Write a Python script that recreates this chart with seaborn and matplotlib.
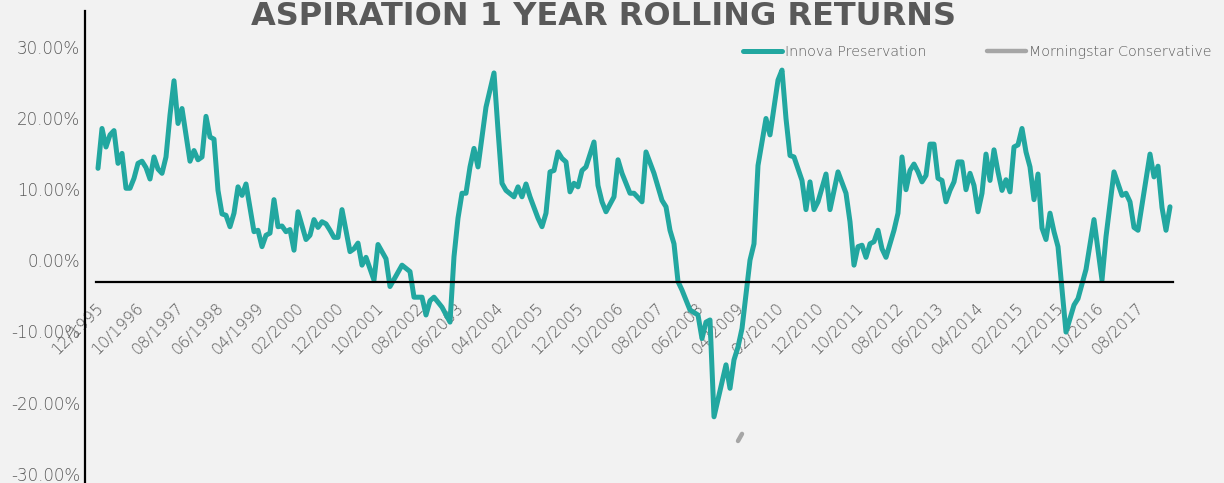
import pandas as pd
import matplotlib.pyplot as plt
import seaborn as sns
from matplotlib.transforms import ScaledTranslation

# months counted from 12/1995, 1 year rolling return in %
innova_month = [
    0, 1, 2, 3, 4, 5, 6, 7, 8, 9, 10, 11, 12, 13, 14, 15, 16, 17, 18, 19,
    20, 21, 23, 24, 25, 26, 27, 28, 29, 30, 31, 32, 33, 34, 35, 36, 37, 39, 40, 41,
    42, 43, 44, 45, 46, 47, 48, 49, 50, 52, 53, 54, 55, 56, 57, 58, 59, 60, 61, 63,
    64, 65, 66, 67, 69, 70, 72, 73, 76, 78, 79, 81, 82, 83, 84, 86, 88, 89, 90, 91,
    92, 93, 94, 95, 97, 98, 99, 100, 101, 102, 104, 105, 106, 107, 108, 110, 111, 112, 113, 114,
    115, 116, 117, 118, 119, 120, 121, 122, 124, 125, 126, 127, 129, 130, 131, 133, 134, 136, 137, 139,
    141, 142, 143, 144, 145, 146, 148, 150, 151, 152, 153, 154, 157, 158, 159, 160, 161, 163, 164, 165,
    167, 168, 170, 171, 172, 173, 174, 176, 177, 178, 179, 180, 182, 183, 185, 187, 188, 189, 190, 191,
    192, 193, 194, 195, 196, 197, 198, 199, 200, 201, 202, 203, 204, 205, 206, 207, 208, 209, 210, 211,
    212, 213, 214, 215, 216, 217, 218, 219, 220, 221, 222, 223, 224, 225, 226, 227, 228, 229, 230, 231,
    232, 233, 234, 235, 236, 237, 238, 239, 240, 242, 244, 245, 247, 249, 251, 252, 254, 256, 257, 258,
    259, 260, 263, 264, 265, 266, 267, 268,
]
innova_return = [
    12.9, 18.5, 15.9, 17.6, 18.2, 13.6, 15.0, 10.1, 10.1, 11.5, 13.6, 13.9, 13.0, 11.4, 14.5, 12.8, 12.2, 14.5, 20.4, 25.2,
    19.2, 21.3, 13.9, 15.4, 14.1, 14.5, 20.2, 17.3, 17.0, 9.8, 6.5, 6.3, 4.7, 6.6, 10.3, 9.1, 10.7, 4.0, 4.2, 1.9,
    3.5, 3.8, 8.5, 4.7, 4.8, 4.0, 4.3, 1.4, 6.8, 2.9, 3.5, 5.7, 4.6, 5.4, 5.1, 4.2, 3.2, 3.2, 7.1, 1.2,
    1.6, 2.4, -0.7, 0.4, -2.8, 2.2, 0.2, -3.7, -0.7, -1.6, -5.2, -5.2, -7.7, -5.7, -5.2, -6.6, -8.7, 0.5, 5.9, 9.4,
    9.4, 13.1, 15.7, 13.1, 21.5, 23.9, 26.3, 18.3, 10.8, 9.8, 8.9, 10.3, 8.9, 10.7, 8.9, 5.9, 4.7, 6.6, 12.4, 12.6,
    15.2, 14.3, 13.8, 9.6, 10.8, 10.3, 12.6, 13.1, 16.6, 10.5, 8.2, 6.8, 8.9, 14.1, 12.2, 9.4, 9.4, 8.2, 15.2, 12.2,
    8.4, 7.5, 4.2, 2.3, -3.0, -4.2, -7.0, -7.7, -11.0, -8.7, -8.4, -22.0, -14.7, -18.0, -14.0, -12.2, -9.6, 0.0, 2.3, 13.3,
    19.9, 17.6, 25.3, 26.7, 19.9, 14.7, 14.5, 11.2, 7.1, 11.0, 7.1, 8.2, 12.1, 7.1, 12.4, 9.4, 5.4, -0.7, 1.9, 2.1,
    0.4, 2.3, 2.6, 4.2, 1.6, 0.4, 2.3, 4.2, 6.6, 14.5, 9.9, 12.6, 13.5, 12.4, 11.0, 11.9, 16.3, 16.3, 11.5, 11.2,
    8.2, 9.8, 11.0, 13.8, 13.8, 9.9, 12.2, 10.5, 6.8, 9.4, 14.9, 11.2, 15.5, 12.4, 9.8, 11.3, 9.6, 15.9, 16.2, 18.5,
    15.2, 13.1, 8.5, 12.1, 4.5, 2.9, 6.6, 4.0, 1.9, -10.1, -6.3, -5.4, -1.3, 5.7, -2.8, 3.3, 12.4, 9.1, 9.4, 8.2,
    4.6, 4.2, 14.9, 11.7, 13.2, 7.4, 4.2, 7.5,
]

# only a tiny piece of the Morningstar series is visible in the source chart
morningstar_month = [160, 161]
morningstar_return = [-25.4, -24.4]

tick_labels = [
    "12/1995", "10/1996", "08/1997", "06/1998", "04/1999", "02/2000", "12/2000",
    "10/2001", "08/2002", "06/2003", "04/2004", "02/2005", "12/2005", "10/2006",
    "08/2007", "06/2008", "04/2009", "02/2010", "12/2010", "10/2011", "08/2012",
    "06/2013", "04/2014", "02/2015", "12/2015", "10/2016", "08/2017",
]
y_ticks = [-30, -20, -10, 0, 10, 20, 30]
y_tick_labels = ["-30.00%", "-20.00%", "-10.00%", "0.00%", "10.00%", "20.00%", "30.00%"]

teal = "#22A7A0"
grey = "#A6A6A6"
text_grey = "#595959"
bg = "#F2F2F2"

sns.set_style("white", {"axes.facecolor": bg, "figure.facecolor": bg})
plt.rcParams["font.family"] = ["DejaVu Sans"]

innova = pd.DataFrame({"month": innova_month, "ret": innova_return})
morning = pd.DataFrame({"month": morningstar_month, "ret": morningstar_return})

fig = plt.figure(figsize=(12.24, 4.83), dpi=100)
ax = fig.add_axes([85 / 1224, 0, 1088 / 1224, 472 / 483])

sns.lineplot(data=innova, x="month", y="ret", color=teal, lw=3.6, ax=ax,
             label="Innova Preservation", estimator=None,
             solid_joinstyle="round", solid_capstyle="round")
sns.lineplot(data=morning, x="month", y="ret", color=grey, lw=3.2, ax=ax,
             label="Morningstar Conservative", estimator=None,
             solid_capstyle="round")

ax.set_xlim(-3.25, 268.75)
ax.set_ylim(-31.3, 35)
ax.set_xlabel("")
ax.set_ylabel("")

# axes: vertical line on the left, horizontal axis crossing a bit below zero
ax.spines["top"].set_visible(False)
ax.spines["right"].set_visible(False)
ax.spines["bottom"].set_position(("data", -3))
ax.spines["bottom"].set_bounds(-0.5, 268.75)
for side in ["left", "bottom"]:
    ax.spines[side].set_color("black")
    ax.spines[side].set_linewidth(1.6)

ax.set_xticks([10 * i - 0.5 for i in range(len(tick_labels))])
ax.set_xticklabels(tick_labels, rotation=45, ha="right", va="center",
                   rotation_mode="anchor", fontsize=11.5, color=text_grey,
                   fontweight=200)
ax.tick_params(axis="x", direction="out", length=3, width=1.6, color="black", pad=14)
shift = ScaledTranslation(5 / 100, 0, fig.dpi_scale_trans)
for lab in ax.get_xticklabels():
    lab.set_transform(lab.get_transform() + shift)

ax.set_yticks(y_ticks)
ax.set_yticklabels(y_tick_labels, fontsize=12, color=text_grey, fontweight=200)
ax.tick_params(axis="y", length=0, pad=3.6)

ax.legend(loc="center left", bbox_to_anchor=(743 / 1224, 1 - 51.7 / 483),
          bbox_transform=fig.transFigure, ncol=2, frameon=False,
          prop={"size": 10.3, "weight": 200},
          handlelength=2.75, handletextpad=0.2, columnspacing=4.2,
          borderpad=0, borderaxespad=0, labelcolor=text_grey)

# title sits right at the top edge, as in the original
fig.text(0.493, 1 - 25 / 483, "ASPIRATION 1 YEAR ROLLING RETURNS", ha="center",
         va="baseline", fontsize=23, fontweight="bold", color=text_grey)

fig.savefig("out.png", dpi=100, facecolor=bg)
